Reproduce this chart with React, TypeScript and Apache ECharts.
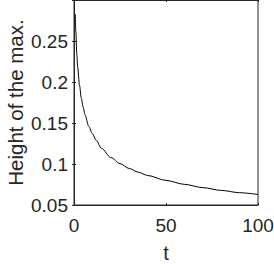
import React, { useEffect, useRef } from "react";
import * as echarts from "echarts";

const tValues = [0.7, 1, 1.5, 2, 3, 4, 5, 6, 8, 10, 12, 15, 20, 25, 30, 35, 40, 50, 60, 70, 80, 90, 100];
const heightValues = [0.283, 0.262, 0.235, 0.218, 0.196, 0.18, 0.169, 0.16, 0.146, 0.137, 0.129, 0.119, 0.108, 0.1005, 0.0945, 0.09, 0.086, 0.08, 0.0752, 0.0712, 0.0678, 0.065, 0.0628];
const xTitle = "t";
const yTitle = "Height of the max.";

const FONT = "'Liberation Sans', Arial, Helvetica, sans-serif";
const INK = "#262626";

export default function App() {
  const ref = useRef<HTMLDivElement>(null);
  useEffect(() => {
    if (!ref.current) return;
    const chart = echarts.init(ref.current, undefined, { renderer: "svg" });
    const points = tValues.map((t, i) => [t, heightValues[i]]);
    const tickCommon = { show: true, inside: true, length: 2, lineStyle: { color: INK, width: 1 } };
    chart.setOption({
      animation: false,
      backgroundColor: "#ffffff",
      grid: {
        left: 74,
        right: 16,
        top: 0,
        bottom: 59,
        containLabel: false,
        outerBoundsMode: "none",
        show: true,
        borderColor: INK,
        borderWidth: 1,
        backgroundColor: "transparent",
      },
      xAxis: [
        {
          type: "value",
          min: 0,
          max: 100,
          interval: 50,
          name: xTitle,
          nameLocation: "middle",
          nameGap: 38,
          nameMoveOverlap: false,
          nameTextStyle: { fontFamily: FONT, fontSize: 20, color: INK, lineHeight: 20 },
          axisLine: { show: true, lineStyle: { color: INK, width: 1 } },
          axisTick: tickCommon,
          axisLabel: { fontFamily: FONT, fontSize: 19, color: INK, margin: 11 },
          splitLine: { show: false },
        },
        {
          type: "value",
          position: "top",
          min: 0,
          max: 100,
          interval: 50,
          axisLine: { show: true, lineStyle: { color: INK, width: 1 } },
          axisTick: tickCommon,
          axisLabel: { show: false },
          splitLine: { show: false },
        },
      ],
      yAxis: [
        {
          type: "value",
          min: 0.05,
          max: 0.3,
          interval: 0.05,
          name: yTitle,
          nameLocation: "middle",
          nameGap: 48,
          nameMoveOverlap: false,
          nameTextStyle: { fontFamily: FONT, fontSize: 20.5, color: INK, lineHeight: 21 },
          axisLine: { show: true, lineStyle: { color: INK, width: 1 } },
          axisTick: tickCommon,
          axisLabel: { fontFamily: FONT, fontSize: 19, color: INK, margin: 6, showMaxLabel: false },
          splitLine: { show: false },
        },
        {
          type: "value",
          position: "right",
          min: 0.05,
          max: 0.3,
          interval: 0.05,
          axisLine: { show: true, lineStyle: { color: INK, width: 1 } },
          axisTick: tickCommon,
          axisLabel: { show: false },
          splitLine: { show: false },
        },
      ],
      series: [
        {
          type: "line",
          data: points,
          xAxisIndex: 0,
          yAxisIndex: 0,
          smooth: 0.3,
          smoothMonotone: "x",
          showSymbol: false,
          lineStyle: { color: "#000000", width: 1 },
        },
      ],
    });
    return () => chart.dispose();
  }, []);
  return <div ref={ref} style={{ width: 274, height: 264, position: "absolute", left: 0, top: 0 }} />;
}
